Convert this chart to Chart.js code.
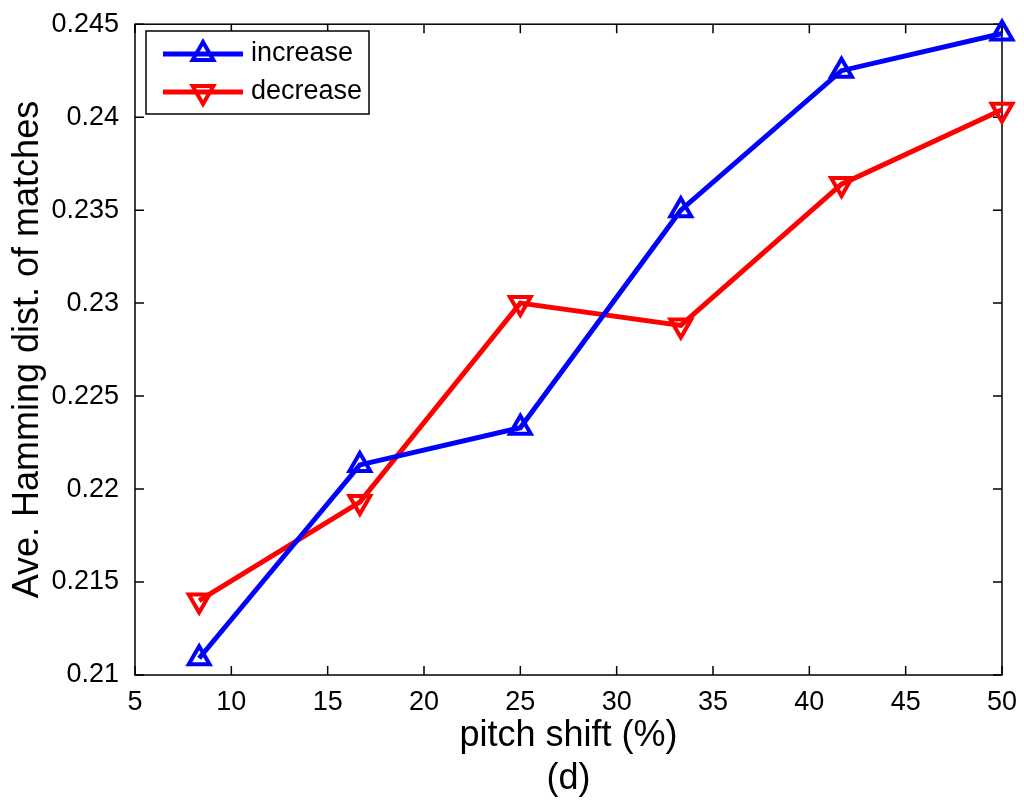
<!DOCTYPE html>
<html>
<head>
<meta charset="utf-8">
<script src="https://cdn.jsdelivr.net/npm/chart.js@4"></script>
<style>
  html, body { margin: 0; padding: 0; background: #fff; }
  #wrap { width: 1024px; height: 804px; }
</style>
</head>
<body>
<div id="wrap"><canvas id="chart" width="1024" height="804"></canvas></div>
<script>
// data
const pitchShift = [8.33, 16.67, 25, 33.33, 41.67, 50];
const increase = [0.2109, 0.2213, 0.2233, 0.2350, 0.2425, 0.2445];
const decrease = [0.2140, 0.2193, 0.2300, 0.2288, 0.2364, 0.2404];
const seriesNames = ['increase', 'decrease'];
const xTicks = [5, 10, 15, 20, 25, 30, 35, 40, 45, 50];
const yTicks = [0.21, 0.215, 0.22, 0.225, 0.23, 0.235, 0.24, 0.245];

const FONT = '"Liberation Sans", Arial, Helvetica, sans-serif';

function toPoints(xs, ys) {
  return xs.map((x, i) => ({ x: x, y: ys[i] }));
}

function triangle(ctx, x, y, r, down) {
  const s = down ? -1 : 1;
  ctx.beginPath();
  ctx.moveTo(x, y - s * r);
  ctx.lineTo(x + r * Math.sin(Math.PI * 2 / 3), y + s * r / 2);
  ctx.lineTo(x - r * Math.sin(Math.PI * 2 / 3), y + s * r / 2);
  ctx.closePath();
  ctx.stroke();
}

// box around the axes with inward ticks on all four sides (matlab look)
const boxTicks = {
  id: 'boxTicks',
  beforeDatasetsDraw(chart) {
    const { ctx, chartArea: a, scales } = chart;
    const len = 9;
    ctx.save();
    ctx.strokeStyle = '#000';
    ctx.lineWidth = 1.5;
    ctx.strokeRect(a.left, a.top, a.right - a.left, a.bottom - a.top);
    ctx.beginPath();
    xTicks.forEach(v => {
      const px = scales.x.getPixelForValue(v);
      ctx.moveTo(px, a.bottom); ctx.lineTo(px, a.bottom - len);
      ctx.moveTo(px, a.top); ctx.lineTo(px, a.top + len);
    });
    yTicks.forEach(v => {
      const py = scales.y.getPixelForValue(v);
      ctx.moveTo(a.left, py); ctx.lineTo(a.left + len, py);
      ctx.moveTo(a.right, py); ctx.lineTo(a.right - len, py);
    });
    ctx.stroke();
    ctx.restore();
  }
};

// matlab style legend: line + marker + label, in a framed box
const boxLegend = {
  id: 'boxLegend',
  afterDraw(chart) {
    const { ctx } = chart;
    const x0 = 146, y0 = 31, w = 223, h = 83;
    ctx.save();
    ctx.fillStyle = '#fff';
    ctx.fillRect(x0, y0, w, h);
    ctx.strokeStyle = '#000';
    ctx.lineWidth = 1.5;
    ctx.strokeRect(x0, y0, w, h);
    chart.data.datasets.forEach((ds, i) => {
      const y = 54 + i * 38;
      ctx.strokeStyle = ds.borderColor;
      ctx.lineWidth = ds.borderWidth;
      ctx.beginPath();
      ctx.moveTo(163, y);
      ctx.lineTo(243, y);
      ctx.stroke();
      ctx.lineWidth = ds.pointBorderWidth;
      triangle(ctx, 203, y, ds.pointRadius, ds.pointRotation === 180);
      ctx.fillStyle = '#000';
      ctx.font = '27px ' + FONT;
      ctx.textBaseline = 'middle';
      ctx.fillText(ds.label, 251, y);
    });
    ctx.restore();
  }
};

const ctx = document.getElementById('chart').getContext('2d');

new Chart(ctx, {
  type: 'line',
  data: {
    datasets: [
      {
        label: seriesNames[0],
        data: toPoints(pitchShift, increase),
        borderColor: '#0000ff',
        borderWidth: 5,
        backgroundColor: 'transparent',
        pointStyle: 'triangle',
        pointRadius: 12,
        pointBorderWidth: 4,
        pointBackgroundColor: 'transparent',
        pointRotation: 0,
        clip: false
      },
      {
        label: seriesNames[1],
        data: toPoints(pitchShift, decrease),
        borderColor: '#ff0000',
        borderWidth: 5,
        backgroundColor: 'transparent',
        pointStyle: 'triangle',
        pointRadius: 12,
        pointBorderWidth: 4,
        pointBackgroundColor: 'transparent',
        pointRotation: 180,
        clip: false
      }
    ]
  },
  options: {
    responsive: false,
    animation: false,
    layout: { padding: { top: 21, right: 22, left: 0, bottom: 0 } },
    plugins: {
      legend: { display: false },
      tooltip: { enabled: false }
    },
    scales: {
      x: {
        type: 'linear',
        min: 5,
        max: 50,
        afterFit(scale) { scale.height = 129; },
        afterBuildTicks(scale) { scale.ticks = xTicks.map(v => ({ value: v })); },
        grid: { display: false },
        border: { display: false },
        ticks: {
          color: '#000',
          font: { family: FONT, size: 27 },
          padding: 3,
          maxRotation: 0
        },
        title: {
          display: true,
          text: ['pitch shift (%)', '(d)'],
          color: '#000',
          font: { family: FONT, size: 36 },
          padding: { top: 0, bottom: 3 }
        }
      },
      y: {
        type: 'linear',
        min: 0.21,
        max: 0.245,
        afterFit(scale) { scale.width = 135; },
        afterBuildTicks(scale) { scale.ticks = yTicks.map(v => ({ value: v })); },
        grid: { display: false },
        border: { display: false },
        ticks: {
          color: '#000',
          font: { family: FONT, size: 27 },
          padding: 8,
          callback: v => String(Number(v.toFixed(3)))
        },
        title: {
          display: true,
          text: 'Ave. Hamming dist. of matches',
          color: '#000',
          font: { family: FONT, size: 36 },
          padding: { top: 6, bottom: 0 }
        }
      }
    }
  },
  plugins: [boxTicks, boxLegend]
});
</script>
</body>
</html>
